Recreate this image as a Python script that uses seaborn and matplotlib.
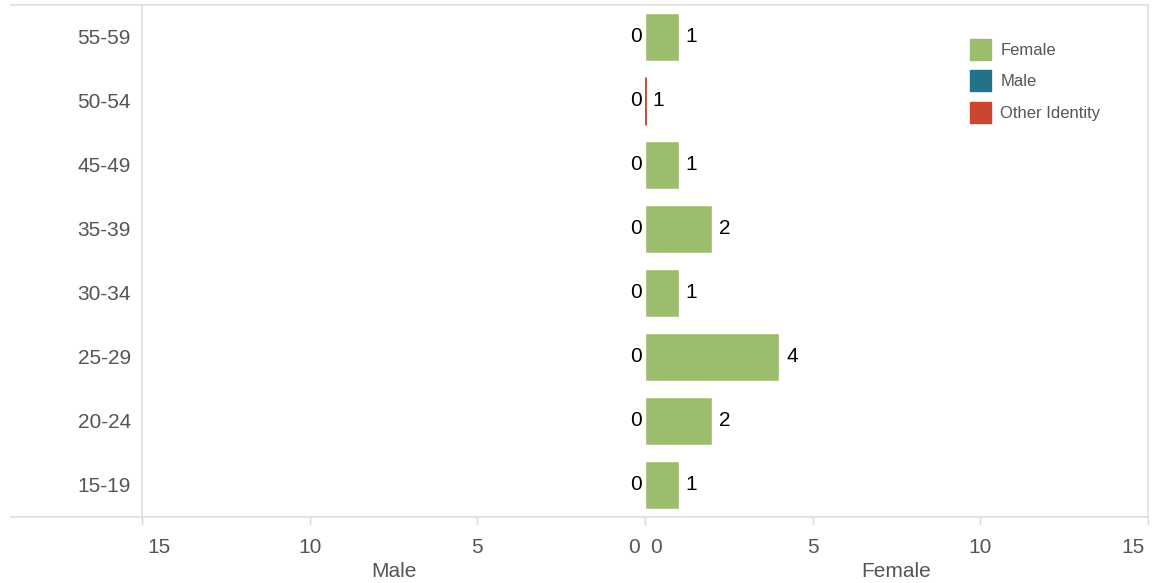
import numpy as np
import pandas as pd
import matplotlib.pyplot as plt
import matplotlib.transforms as mtransforms
import seaborn as sns
from matplotlib.patches import Patch
from matplotlib.lines import Line2D

ages = ["55-59", "50-54", "45-49", "35-39", "30-34", "25-29", "20-24", "15-19"]
female = [1, 0, 1, 2, 1, 4, 2, 1]
male = [0, 0, 0, 0, 0, 0, 0, 0]
other = [0, 1, 0, 0, 0, 0, 0, 0]
ticks = [0, 5, 10, 15]

c_female = "#9dbd6e"
c_male = "#24728a"
c_other = "#cc4530"
c_grid = "#dcdcdc"
c_text = "#555555"

sns.set_theme(style="white")
plt.rcParams["font.family"] = ["Liberation Sans", "DejaVu Sans"]

df = pd.DataFrame({"age": ages, "female": female, "male": male, "other": other})

fig = plt.figure(figsize=(11.6, 5.83), dpi=100)
W, H = 1160, 583
x0, xm, x1 = 142, 645, 1148
ytop, ybot = 5, 517
axL = fig.add_axes([x0 / W, 1 - ybot / H, (xm - x0) / W, (ybot - ytop) / H])
axR = fig.add_axes([xm / W, 1 - ybot / H, (x1 - xm) / W, (ybot - ytop) / H])

sns.barplot(data=df, x="male", y="age", ax=axL, color=c_male, width=0.75, saturation=1)
sns.barplot(data=df, x="female", y="age", ax=axR, color=c_female, width=0.75, saturation=1)

# other identity drawn at the base line of the female side
for i, v in enumerate(other):
    if v > 0:
        axR.vlines(0, i - 0.375, i + 0.375, color=c_other, lw=2)

axL.set_xlim(15, 0)
axR.set_xlim(0, 15)
for ax in (axL, axR):
    ax.set_ylim(len(ages) - 0.5, -0.5)
    ax.set_xticks(ticks)
    ax.set_xticklabels([str(t) for t in ticks])
    ax.tick_params(axis="x", direction="out", length=6, width=1, color=c_grid,
                   labelsize=15, labelcolor=c_text, pad=9, bottom=True)
    for s in ("top", "bottom"):
        ax.spines[s].set_visible(False)
    ax.set_ylabel("")

# end labels kept inside their half, nudged off the tick
def nudge(lab, ha, dx_px):
    lab.set_ha(ha)
    lab.set_transform(lab.get_transform() +
                      mtransforms.ScaledTranslation(dx_px / 100, 0, fig.dpi_scale_trans))

labsL = axL.get_xticklabels()
nudge(labsL[0], "right", -5)
nudge(labsL[-1], "left", 5)
labsR = axR.get_xticklabels()
nudge(labsR[0], "left", 5)
nudge(labsR[-1], "right", -3)

axL.spines["right"].set_visible(False)
axL.spines["left"].set_color(c_grid)
axL.spines["left"].set_linewidth(1.1)
axR.spines["left"].set_visible(False)
axR.spines["right"].set_color(c_grid)
axR.spines["right"].set_linewidth(1.1)

axL.tick_params(axis="y", length=0, labelsize=15, labelcolor=c_text, pad=8)
axR.set_yticks([])
axR.set_yticklabels([])

axL.set_xlabel("Male", fontsize=15, color=c_text, labelpad=4)
axR.set_xlabel("Female", fontsize=15, color=c_text, labelpad=4)

# value labels
for i, v in enumerate(male):
    axL.annotate(str(v), (v, i), xytext=(-2, 0), textcoords="offset points",
                 ha="right", va="center", fontsize=15, color="black")
for i, (f, o) in enumerate(zip(female, other)):
    axR.annotate(str(f + o), (f, i), xytext=(5, 0), textcoords="offset points",
                 ha="left", va="center", fontsize=15, color="black")

# long top/bottom border lines
for yy in (ytop, ybot):
    fig.add_artist(Line2D([10 / W, x1 / W], [1 - yy / H, 1 - yy / H],
                          color=c_grid, lw=1.1, transform=fig.transFigure))

handles = [Patch(color=c_female, label="Female"),
           Patch(color=c_male, label="Male"),
           Patch(color=c_other, label="Other Identity")]
fig.legend(handles=handles, loc="upper left", bbox_to_anchor=(963 / W, 1 - 32 / H),
           frameon=False, fontsize=12, labelcolor=c_text, handlelength=1.3,
           handleheight=1.55, handletextpad=0.55, labelspacing=0.65, borderaxespad=0)

fig.savefig("out.png", dpi=100)
